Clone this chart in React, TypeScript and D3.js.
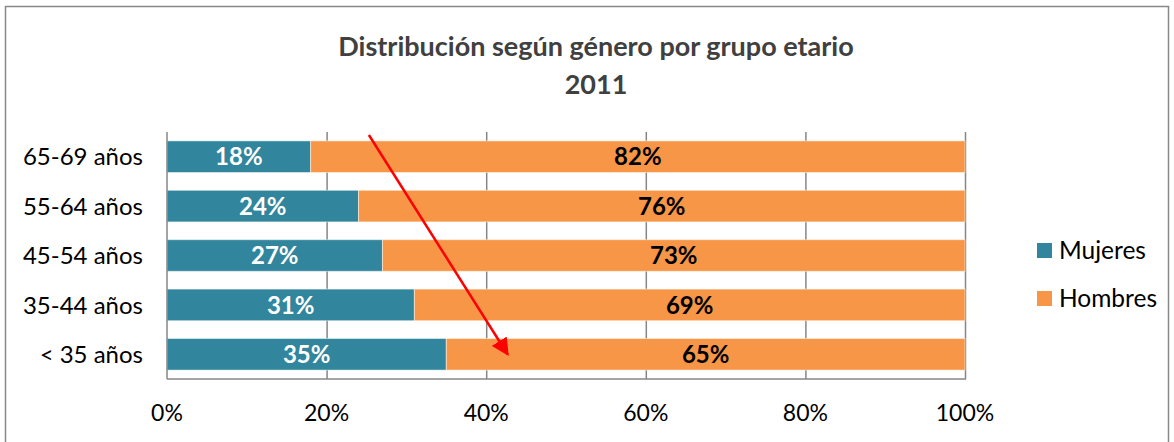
import React, { useEffect, useRef } from 'react';
import * as d3 from 'd3';

const categories = ['65-69 años', '55-64 años', '45-54 años', '35-44 años', '< 35 años'];
const mujeres = [18, 24, 27, 31, 35];
const hombres = [82, 76, 73, 69, 65];
const seriesNames = ['Mujeres', 'Hombres'];
const xTicks = [0, 20, 40, 60, 80, 100];

function App() {
  const ref = useRef<HTMLDivElement>(null);

  useEffect(() => {
    const W = 1174;
    const H = 442;
    const margin = { top: 132, left: 167, right: 209, bottom: 63 };
    const font = "Lato, sans-serif";
    const colors = ['#31859C', '#F79646'];

    d3.select(ref.current).select('svg').remove();
    const svg = d3
      .select(ref.current)
      .append('svg')
      .attr('width', W)
      .attr('height', H)
      .style('position', 'absolute')
      .style('left', '0px')
      .style('top', '0px');

    svg.append('rect').attr('width', W).attr('height', H).attr('fill', '#fff');
    // chart frame
    svg
      .append('rect')
      .attr('x', 5.5)
      .attr('y', 6.5)
      .attr('width', W - 11)
      .attr('height', H)
      .attr('fill', 'none')
      .attr('stroke', '#888')
      .attr('stroke-width', 1.5);

    const x = d3.scaleLinear().domain([0, 100]).range([margin.left, W - margin.right]);
    const y = d3
      .scaleBand()
      .domain(categories)
      .range([margin.top, H - margin.bottom])
      .paddingInner(0.36)
      .paddingOuter(0.18);

    // title
    const title = svg
      .append('text')
      .attr('text-anchor', 'middle')
      .style('font-family', font)
      .style('font-weight', 'bold')
      .style('font-size', '27px')
      .attr('fill', '#404040');
    title.append('tspan').attr('x', 596).attr('y', 56).text('Distribución según género por grupo etario');
    title.append('tspan').attr('x', 596).attr('y', 94).text('2011');

    // gridlines
    svg
      .append('g')
      .selectAll('line')
      .data(xTicks.slice(1))
      .join('line')
      .attr('x1', (d) => x(d) + 0.5)
      .attr('x2', (d) => x(d) + 0.5)
      .attr('y1', margin.top)
      .attr('y2', H - margin.bottom)
      .attr('stroke', '#868686')
      .attr('stroke-width', 1.5);

    // bars
    const rows = categories.map((c, i) => ({ cat: c, vals: [mujeres[i], hombres[i]] }));
    rows.forEach((r) => {
      let start = 0;
      r.vals.forEach((v, j) => {
        svg
          .append('rect')
          .attr('x', x(start))
          .attr('y', y(r.cat)!)
          .attr('width', x(start + v) - x(start))
          .attr('height', y.bandwidth())
          .attr('fill', colors[j])
          .attr('stroke', '#fff')
          .attr('stroke-opacity', 0.5)
          .attr('stroke-width', 1);
        svg
          .append('text')
          .attr('x', x(start + v / 2))
          .attr('y', y(r.cat)! + y.bandwidth() / 2)
          .attr('dy', '0.36em')
          .attr('text-anchor', 'middle')
          .style('font-family', font)
          .style('font-weight', 'bold')
          .style('font-size', '24px')
          .attr('fill', j === 0 ? '#fff' : '#000')
          .text(`${v}%`);
        start += v;
      });
    });

    // axes lines
    svg
      .append('line')
      .attr('x1', x(0))
      .attr('x2', x(0))
      .attr('y1', margin.top)
      .attr('y2', H - margin.bottom)
      .attr('stroke', '#868686')
      .attr('stroke-width', 1.5);
    svg
      .append('line')
      .attr('x1', x(0))
      .attr('x2', x(100) + 1)
      .attr('y1', H - margin.bottom)
      .attr('y2', H - margin.bottom)
      .attr('stroke', '#868686')
      .attr('stroke-width', 1.5);

    // x tick labels
    svg
      .append('g')
      .selectAll('text')
      .data(xTicks)
      .join('text')
      .attr('x', (d) => x(d))
      .attr('y', 421)
      .attr('text-anchor', 'middle')
      .style('font-family', font)
      .style('font-size', '23px')
      .attr('fill', '#000')
      .text((d) => `${d}%`);

    // category labels
    svg
      .append('g')
      .selectAll('text')
      .data(categories)
      .join('text')
      .attr('x', 143)
      .attr('y', (d) => y(d)! + y.bandwidth() / 2)
      .attr('dy', '0.36em')
      .attr('text-anchor', 'end')
      .style('font-family', font)
      .style('font-size', '24px')
      .attr('fill', '#000')
      .text((d) => d);

    // legend
    const legend = svg.append('g').attr('transform', 'translate(1037,243)');
    seriesNames.forEach((n, i) => {
      legend
        .append('rect')
        .attr('x', 0)
        .attr('y', i * 48)
        .attr('width', 15)
        .attr('height', 15)
        .attr('fill', colors[i]);
      legend
        .append('text')
        .attr('x', 22)
        .attr('y', i * 48 + 7.5)
        .attr('dy', '0.36em')
        .style('font-family', font)
        .style('font-size', '24.5px')
        .attr('fill', '#000')
        .text(n);
    });

    // red arrow annotation
    svg
      .append('defs')
      .append('marker')
      .attr('id', 'arrowhead')
      .attr('viewBox', '0 0 10 10')
      .attr('refX', 9)
      .attr('refY', 5)
      .attr('markerWidth', 7)
      .attr('markerHeight', 7)
      .attr('orient', 'auto')
      .append('path')
      .attr('d', 'M0,0 L10,5 L0,10 z')
      .attr('fill', '#FF0000');
    svg
      .append('line')
      .attr('x1', x(25.3))
      .attr('y1', margin.top + 3)
      .attr('x2', x(42.7))
      .attr('y2', y('< 35 años')! + 16)
      .attr('stroke', '#FF0000')
      .attr('stroke-width', 2.5)
      .attr('marker-end', 'url(#arrowhead)');
  }, []);

  return <div ref={ref}></div>;
}

export default App;
